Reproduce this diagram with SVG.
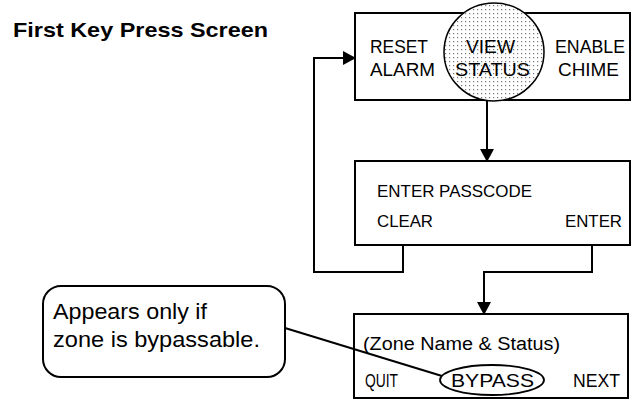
<svg xmlns="http://www.w3.org/2000/svg" width="631" height="400" viewBox="0 0 631 400">
<defs>
<pattern id="dots" width="4" height="4" patternUnits="userSpaceOnUse">
<rect width="4" height="4" fill="#fff"/>
<rect x="1" y="1" width="1.2" height="1.2" fill="#777"/>
</pattern>
<marker id="arr" markerWidth="14" markerHeight="14" refX="12" refY="7" orient="auto" markerUnits="userSpaceOnUse">
<path d="M0,0 L13,7 L0,14 Z" fill="#000"/>
</marker>
<style>
.box{fill:#fff;stroke:#000;stroke-width:2}
.t{font-family:"Liberation Sans",Arial,sans-serif;fill:#000}
.c{fill:none;stroke:#000;stroke-width:2}
</style>
</defs>
<rect width="631" height="400" fill="#fff"/>
<text class="t" x="13" y="37" font-size="21" font-weight="bold" textLength="255" lengthAdjust="spacingAndGlyphs">First Key Press Screen</text>

<g id="node-first">
<rect class="box" x="355" y="13" width="275" height="87"/>
<ellipse cx="494" cy="52" rx="50" ry="49" fill="url(#dots)" stroke="#000" stroke-width="1.5"/>
<text class="t" x="370" y="53" font-size="18" textLength="58" lengthAdjust="spacingAndGlyphs">RESET</text>
<text class="t" x="370" y="76" font-size="18" textLength="65" lengthAdjust="spacingAndGlyphs">ALARM</text>
<text class="t" x="466" y="53" font-size="18" textLength="49" lengthAdjust="spacingAndGlyphs">VIEW</text>
<text class="t" x="455" y="76" font-size="18" textLength="75" lengthAdjust="spacingAndGlyphs">STATUS</text>
<text class="t" x="555" y="53" font-size="18" textLength="70" lengthAdjust="spacingAndGlyphs">ENABLE</text>
<text class="t" x="558" y="76" font-size="18" textLength="61" lengthAdjust="spacingAndGlyphs">CHIME</text>
</g>

<g id="node-passcode">
<rect class="box" x="355" y="161" width="275" height="84"/>
<text class="t" x="377" y="197" font-size="16.5" textLength="155" lengthAdjust="spacingAndGlyphs">ENTER PASSCODE</text>
<text class="t" x="377" y="227" font-size="16.5" textLength="56" lengthAdjust="spacingAndGlyphs">CLEAR</text>
<text class="t" x="565" y="227" font-size="16.5" textLength="57" lengthAdjust="spacingAndGlyphs">ENTER</text>
</g>

<g id="node-zone">
<rect class="box" x="354" y="314" width="274" height="84"/>
<text class="t" x="363" y="350" font-size="18" textLength="197" lengthAdjust="spacingAndGlyphs">(Zone Name &amp; Status)</text>
<text class="t" x="365" y="387" font-size="18" textLength="33" lengthAdjust="spacingAndGlyphs">QUIT</text>
<ellipse cx="492" cy="380" rx="52" ry="15" fill="none" stroke="#000" stroke-width="1.8"/>
<text class="t" x="451" y="387" font-size="18" textLength="83" lengthAdjust="spacingAndGlyphs">BYPASS</text>
<text class="t" x="573" y="387" font-size="18" textLength="47" lengthAdjust="spacingAndGlyphs">NEXT</text>
</g>

<g id="node-callout">
<rect class="box" x="43" y="286" width="242" height="91" rx="18"/>
<text class="t" x="53" y="319" font-size="22" textLength="154" lengthAdjust="spacingAndGlyphs">Appears only if</text>
<text class="t" x="53" y="347" font-size="22" textLength="207" lengthAdjust="spacingAndGlyphs">zone is bypassable.</text>
</g>

<g id="connectors">
<path class="c" d="M403,245 V272 H314 V58 H355" marker-end="url(#arr)"/>
<path class="c" d="M487,100 V161" marker-end="url(#arr)"/>
<path class="c" d="M592,245 V272 H484 V314" marker-end="url(#arr)"/>
<path class="c" d="M285,328 L442,376"/>
</g>
</svg>
